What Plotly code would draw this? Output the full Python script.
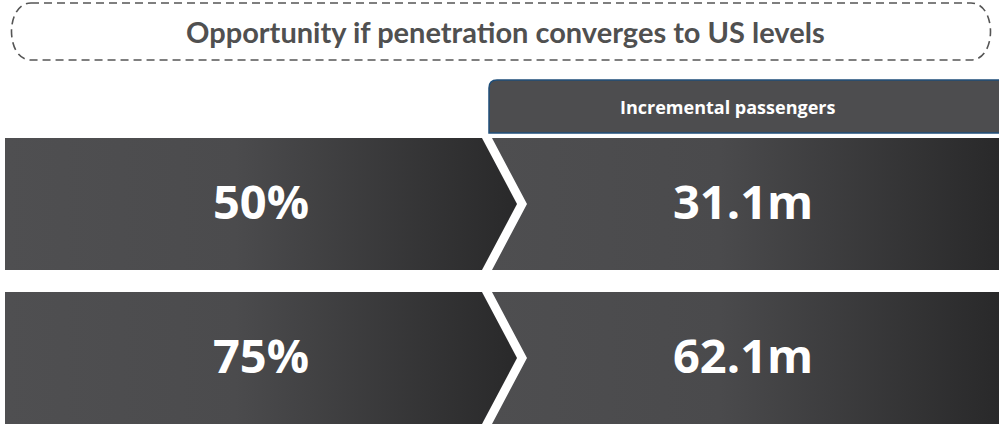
import plotly.graph_objects as go

# ---- data ----
title_text = "Opportunity if penetration converges to US levels"
header_text = "Incremental passengers"
penetration = ["50%", "75%"]
incremental_passengers = ["31.1m", "62.1m"]

W, H = 999, 425
fig = go.Figure()

# layout parameters (positions / styles)
row_top0, row_h, row_gap = 138, 132, 22
left_x0, left_x1, tip = 5, 482, 35
right_x0, right_x1 = 492, 999
left_scale = [[0, "#4f4f51"], [0.45, "#4b4b4d"], [1, "#29292a"]]
right_scale = [[0, "#4e4e50"], [0.45, "#4a4a4c"], [1, "#29292a"]]
num_font = dict(family="Open Sans", size=47, color="white")

for i, (p, v) in enumerate(zip(penetration, incremental_passengers)):
    y0 = row_top0 + i * (row_h + row_gap)
    y1 = y0 + row_h
    ym = (y0 + y1) / 2
    # left arrow shape
    fig.add_trace(go.Scatter(
        x=[left_x0, left_x1, left_x1 + tip, left_x1, left_x0, left_x0],
        y=[y0, y0, ym, y1, y1, y0],
        mode="lines", line=dict(width=0), fill="toself",
        fillgradient=dict(type="horizontal", colorscale=left_scale),
        hoverinfo="skip", showlegend=False))
    # right notched shape
    fig.add_trace(go.Scatter(
        x=[right_x0, right_x1, right_x1, right_x0, right_x0 + tip, right_x0],
        y=[y0, y0, y1, y1, ym, y0],
        mode="lines", line=dict(width=0), fill="toself",
        fillgradient=dict(type="horizontal", colorscale=right_scale),
        hoverinfo="skip", showlegend=False))
    fig.add_annotation(x=261, y=ym - 3, text=f"<b>{p}</b>", showarrow=False,
                       font=num_font, xanchor="center", yanchor="middle")
    fig.add_annotation(x=743, y=ym - 3, text=f"<b>{v}</b>", showarrow=False,
                       font=num_font, xanchor="center", yanchor="middle")

# dashed rounded title box
bx0, bx1, by0, by1, r = 5, 997, 3, 60, 26
path = (f"M {bx0+r},{by0} L {bx1-r},{by0} "
        f"C {bx1},{by0} {bx1},{by1} {bx1-r},{by1} "
        f"L {bx0+r},{by1} C {bx0},{by1} {bx0},{by0} {bx0+r},{by0} Z")
shapes = [dict(type="path", path=path, xref="x", yref="y",
               line=dict(color="#555555", width=1.6, dash="8px,5px"),
               fillcolor="rgba(0,0,0,0)", layer="below")]

# header tab with rounded top-left corner
hx0, hx1, hy0, hy1, hr = 489, 1000, 80, 133, 8
hpath = (f"M {hx0},{hy1} L {hx0},{hy0+hr} Q {hx0},{hy0} {hx0+hr},{hy0} "
         f"L {hx1},{hy0} L {hx1},{hy1} Z")
shapes.append(dict(type="path", path=hpath, xref="x", yref="y",
                   line=dict(color="#1f4e79", width=1.5),
                   fillcolor="#4d4d4f", layer="above"))

fig.add_annotation(x=505, y=31, text=f"<b>{title_text}</b>", showarrow=False,
                   font=dict(family="Lato", size=29, color="#505050"),
                   xanchor="center", yanchor="middle")
fig.add_annotation(x=727, y=107, text=f"<b>{header_text}</b>", showarrow=False,
                   font=dict(family="Open Sans", size=18, color="white"),
                   xanchor="center", yanchor="middle")

fig.update_layout(
    width=W, height=H, margin=dict(l=0, r=0, t=0, b=0),
    paper_bgcolor="white", plot_bgcolor="white",
    xaxis=dict(range=[0, W], visible=False, fixedrange=True),
    yaxis=dict(range=[H, 0], visible=False, fixedrange=True),
    shapes=shapes, showlegend=False)

fig.write_html("out.html", config={"displayModeBar": False})
